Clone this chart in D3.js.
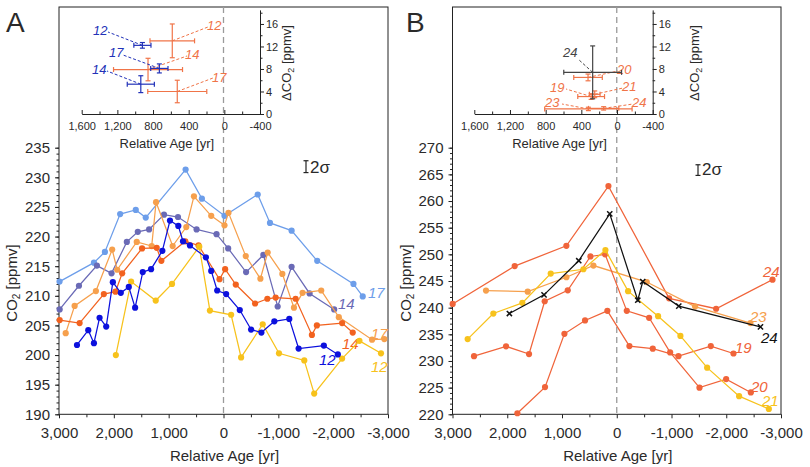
<!DOCTYPE html>
<html><head><meta charset="utf-8">
<script src="https://cdn.jsdelivr.net/npm/d3@7"></script>
<style>
body{margin:0;background:#fff}
text{font-family:"Liberation Sans",Arial,Helvetica,sans-serif;fill:#2a2a2a}
</style>
</head><body>
<svg id="c" width="810" height="467"></svg>
<script>
// ---------- DATA (relative age [yr], CO2 [ppmv]) ----------
// Panel A
const A17lb = [[2990,212.4],[2363,215.6],[2163,217.4],[1885,223.8],[1600,224.5],[1418,223.2],[691,231.3],[394,226.4],[-18,223.5],[-624,227.1],[-848,222.3],[-1242,221.0],[-1709,215.9],[-2370,212.0],[-2539,209.9]];
const A14p = [[2988,207.7],[2636,211.7],[2309,215.1],[2042,213.8],[1763,219.1],[1563,220.8],[1357,221.2],[1085,223.7],[830,223.3],[491,221.2],[127,220.4],[-85,218.0],[-412,214.0],[-727,216.9],[-988,208.2],[-1242,214.9],[-1570,210.4],[-2018,207.7]];
const A17o = [[2878,203.7],[2715,208.3],[2327,210.8],[2030,217.8],[1939,214.4],[1582,219.1],[1309,218.4],[1230,225.8],[927,218.4],[679,221.6],[539,226.8],[224,223.5],[-18,221.9],[-91,224.0],[-406,216.7],[-673,212.9],[-806,217.3],[-1073,213.7],[-1285,208.0],[-1442,210.5],[-1782,210.9],[-2103,206.4],[-2709,202.6],[-2933,202.7]];
const A14o = [[2988,205.9],[2624,205.4],[2182,210.3],[1970,210.7],[1848,213.8],[1485,218.0],[1218,218.1],[1133,215.9],[697,219.2],[455,218.5],[73,212.8],[-30,214.5],[-224,211.9],[-576,208.7],[-800,209.5],[-951,209.7],[-1315,209.5],[-1612,203.4],[-1703,205.0],[-2163,205.4],[-2357,203.8]];
const A12b = [[2672,201.7],[2466,204.2],[2363,202.0],[2260,206.3],[2139,204.8],[2018,212.3],[1873,210.5],[1727,211.5],[1612,208.0],[1473,214.0],[1321,214.5],[1115,217.6],[976,222.7],[824,221.8],[739,219.2],[612,218.5],[321,216.5],[224,214.2],[115,210.9],[-48,210.3],[-297,207.6],[-503,204.3],[-691,203.8],[-927,205.7],[-1200,206.1],[-1370,201.1],[-1830,201.6],[-2085,200.1]];
const A12y = [[1963,200.0],[1685,212.4],[1236,209.2],[939,212.0],[442,218.3],[248,207.5],[-139,206.8],[-321,199.6],[-715,205.2],[-1012,200.3],[-1473,199.1],[-1654,193.5],[-2163,199.4],[-2479,202.4],[-2872,200.3]];
// Panel B
const B24r = [[2997,240.7],[1864,247.8],[920,251.6],[152,262.8],[-956,241.75],[-1815,239.8],[-2845,245.25]];
const B24k = [[1961,238.9],[1328,242.4],[694,248.8],[128,257.6],[-384,241.4],[-475,244.9],[-1133,240.3],[-2625,236.4]];
const B23 = [[2388,243.2],[1626,243.0],[920,245.7],[426,247.9],[-548,244.8],[-1431,240.2],[-2442,237.1]];
const B21 = [[2723,234.1],[2254,238.9],[1724,240.9],[1206,246.4],[609,247.2],[207,250.8],[-207,243.1],[-755,238.4],[-1163,234.7],[-1651,228.75],[-2235,223.4],[-2778,221.0]];
const B20 = [[2607,230.9],[2022,232.75],[1602,231.3],[1316,241.2],[895,243.25],[481,249.6],[213,250.0],[-183,239.4],[-591,238.1],[-975,231.6],[-1511,225.0],[-1998,226.6],[-2449,224.1]];
const B19 = [[1815,220.2],[1310,225.1],[956,235.1],[579,237.6],[171,239.4],[-231,232.8],[-658,232.3],[-1127,230.9],[-1718,232.8],[-2132,231.4]];
// Insets: [label, age, dCO2, age error, dCO2 error]
const insetABlue = [["12",919,12.2,96,0.5],["17",729,8.1,97,0.8],["14",937,5.3,152,1.5]];
const insetAOrange = [["12",584,13.0,250,3.0],["14",856,7.9,387,2.0],["17",528,4.0,331,2.0]];
const insetBBlack = [["24",273,7.4,324,4.7]];
const insetBOrange = [["20",325,6.5,160,0.6],["19",290,3.1,150,0.5],["21",250,3.5,60,0.6],["23",321,0.9,490,0.3],["24",150,1.0,170,0.3]];
// tick values
const mainXTicks = [3000,2000,1000,0,-1000,-2000,-3000];
const insetXTicks = [1600,1200,800,400,0,-400];
const insetYTicks = [0,4,8,12,16];

// ---------- STYLE / LAYOUT ----------
const C = {lb:"#6d9eea", pu:"#6a6ab6", lo:"#f6a04d", do:"#f2621f", bl:"#0c10dd", ye:"#f7c21c", rd:"#f0643a", bk:"#111", ib:"#2232b8", io:"#f07448"};
const svg = d3.select("#c");
const fmt = v => (v<0?"-":"") + d3.format(",")(Math.abs(v));
const YB = 414.3, YT = 147.7, TOP = 7;

function styleAxis(g, size){
  g.attr("font-family","Liberation Sans, Arial, sans-serif").attr("font-size",size);
  g.selectAll("text").attr("fill","#2a2a2a");
  g.selectAll("line,path").attr("stroke","#222");
}

function panel(p){
  const g = svg.append("g");
  const x = d3.scaleLinear().domain([3000,-3000]).range([p.x0,p.x1]);
  const y = d3.scaleLinear().domain(p.yd).range([YB,YT]);
  g.append("rect").attr("x",p.x0).attr("y",TOP).attr("width",p.x1-p.x0).attr("height",YB-TOP)
    .attr("fill","none").attr("stroke","#222").attr("stroke-width",1);
  g.append("line").attr("x1",x(0)).attr("x2",x(0)).attr("y1",TOP).attr("y2",YB)
    .attr("stroke","#9a9a9a").attr("stroke-width",1.3).attr("stroke-dasharray","6,4");
  const gx = g.append("g").attr("transform",`translate(0,${YB})`)
    .call(d3.axisBottom(x).tickValues(mainXTicks).tickFormat(fmt).tickSize(4).tickPadding(9.5));
  gx.select(".domain").remove(); styleAxis(gx,15);
  const gxm = g.append("g").attr("transform",`translate(0,${YB})`)
    .call(d3.axisBottom(x).tickValues(d3.range(-2500,2600,1000)).tickFormat("").tickSize(3));
  gxm.select(".domain").remove(); styleAxis(gxm,15);
  const gy = g.append("g").attr("transform",`translate(${p.x0},0)`)
    .call(d3.axisLeft(y).tickValues(d3.range(p.yd[0],p.yd[1]+1,5)).tickSize(4).tickPadding(5));
  gy.select(".domain").remove(); styleAxis(gy,15);
  const gym = g.append("g").attr("transform",`translate(${p.x0},0)`)
    .call(d3.axisLeft(y).tickValues(d3.range(p.yd[0],p.yd[1]+1,1)).tickFormat("").tickSize(2.5));
  gym.select(".domain").remove(); styleAxis(gym,15);
  g.append("text").attr("x",x(0)+1).attr("y",460.5).attr("text-anchor","middle").attr("font-size",15).text("Relative Age [yr]");
  const yt = g.append("text").attr("transform",`translate(${p.x0-42},283) rotate(-90)`).attr("text-anchor","middle").attr("font-size",15);
  yt.append("tspan").text("CO");
  yt.append("tspan").attr("font-size",10).attr("dy",3).text("2");
  yt.append("tspan").attr("dy",-3).text(" [ppmv]");
  g.append("text").attr("x",p.lx).attr("y",32).attr("font-size",28).text(p.letter);
  const sx = p.sigX, sTop = y(p.sigV+2), sBot = y(p.sigV);
  g.append("line").attr("x1",sx).attr("x2",sx).attr("y1",sTop).attr("y2",sBot).attr("stroke","#222").attr("stroke-width",1.2);
  [sTop,sBot].forEach(v=>g.append("line").attr("x1",sx-2.5).attr("x2",sx+2.5).attr("y1",v).attr("y2",v).attr("stroke","#222").attr("stroke-width",1.2));
  g.append("text").attr("x",sx+4).attr("y",sBot).attr("font-family","Liberation Serif, Times New Roman, serif").attr("font-size",17).text("2σ");
  const line = d3.line().x(d=>x(d[0])).y(d=>y(d[1]));
  p.series.forEach(s=>{
    g.append("path").attr("d",line(s.data)).attr("fill","none").attr("stroke",s.color).attr("stroke-width",1.25);
    if(s.cross){
      s.data.forEach(d=>{
        const cx=x(d[0]), cy=y(d[1]), r=2.6;
        g.append("path").attr("d",`M${cx-r},${cy-r}L${cx+r},${cy+r}M${cx-r},${cy+r}L${cx+r},${cy-r}`).attr("stroke",s.color).attr("stroke-width",1.5);
      });
    } else {
      g.selectAll(null).data(s.data).enter().append("circle")
        .attr("cx",d=>x(d[0])).attr("cy",d=>y(d[1])).attr("r",3.1).attr("fill",s.color);
    }
    g.append("text").attr("x",s.lab[0]).attr("y",s.lab[1]).attr("font-size",15).attr("font-style","italic")
      .style("fill",s.color).text(s.name);
  });
  return {x,y};
}

function inset(q){
  const g = svg.append("g");
  const x = d3.scaleLinear().domain([1600,-400]).range([q.x0,q.x1]);
  const y = d3.scaleLinear().domain([0,18.5]).range([114,9.9]);
  const gx = g.append("g").attr("transform","translate(0,114)")
    .call(d3.axisBottom(x).tickValues(insetXTicks).tickFormat(fmt).tickSizeInner(-4).tickSizeOuter(0).tickPadding(8.5));
  styleAxis(gx,11);
  const gxm = g.append("g").attr("transform","translate(0,114)")
    .call(d3.axisBottom(x).tickValues(d3.range(-200,1500,400)).tickFormat("").tickSizeInner(-2.5).tickSizeOuter(0));
  gxm.select(".domain").remove(); styleAxis(gxm,11);
  const gy = g.append("g").attr("transform",`translate(${q.x1},0)`)
    .call(d3.axisRight(y).tickValues(insetYTicks).tickSizeInner(4).tickSizeOuter(0).tickPadding(2));
  styleAxis(gy,11);
  const gym = g.append("g").attr("transform",`translate(${q.x1},0)`)
    .call(d3.axisRight(y).tickValues([2,6,10,14,18]).tickFormat("").tickSizeInner(2.5).tickSizeOuter(0));
  gym.select(".domain").remove(); styleAxis(gym,11);
  g.append("text").attr("x",(q.x0+q.x1)/2-4).attr("y",147.5).attr("text-anchor","middle").attr("font-size",13).text("Relative Age [yr]");
  const yt = g.append("text").attr("transform",`translate(${q.tx},63) rotate(-90)`).attr("text-anchor","middle").attr("font-size",13);
  yt.append("tspan").text("ΔCO");
  yt.append("tspan").attr("font-size",9).attr("dy",3).text("2");
  yt.append("tspan").attr("dy",-3).text(" [ppmv]");
  q.groups.forEach(grp=>{
    grp.data.forEach((d,i)=>{
      const cx=x(d[1]), cy=y(d[2]), xl=x(d[1]+d[3]), xr=x(d[1]-d[3]), yt2=y(d[2]+d[4]), yb=y(d[2]-d[4]);
      const col=grp.color, sw=1.2, cap=2.5;
      g.append("line").attr("x1",xl).attr("x2",xr).attr("y1",cy).attr("y2",cy).attr("stroke",col).attr("stroke-width",sw);
      g.append("line").attr("x1",cx).attr("x2",cx).attr("y1",yt2).attr("y2",yb).attr("stroke",col).attr("stroke-width",sw);
      [xl,xr].forEach(v=>g.append("line").attr("x1",v).attr("x2",v).attr("y1",cy-cap).attr("y2",cy+cap).attr("stroke",col).attr("stroke-width",sw));
      [yt2,yb].forEach(v=>g.append("line").attr("x1",cx-cap).attr("x2",cx+cap).attr("y1",v).attr("y2",v).attr("stroke",col).attr("stroke-width",sw));
      const L = grp.labels[i];
      g.append("line").attr("x1",cx).attr("y1",cy).attr("x2",L[2]).attr("y2",L[3])
        .attr("stroke",col).attr("stroke-width",1).attr("stroke-dasharray","3,2");
      g.append("text").attr("x",L[0]).attr("y",L[1]).attr("font-size",13).attr("font-style","italic").style("fill",col).text(d[0]);
    });
  });
}

panel({x0:59,x1:388,yd:[190,235],letter:"A",lx:6,sigX:306,sigV:230.8,
  series:[
    {data:A17lb,color:C.lb,name:"17",lab:[368,298]},
    {data:A14p,color:C.pu,name:"14",lab:[338,309]},
    {data:A17o,color:C.lo,name:"17",lab:[371,339]},
    {data:A14o,color:C.do,name:"14",lab:[342,349]},
    {data:A12y,color:C.ye,name:"12",lab:[371,372]},
    {data:A12b,color:C.bl,name:"12",lab:[319,365]}
  ]});
panel({x0:452.5,x1:781,yd:[220,270],letter:"B",lx:406,sigX:698,sigV:264.8,
  series:[
    {data:B24r,color:C.rd,name:"24",lab:[763,277]},
    {data:B23,color:C.lo,name:"23",lab:[750,322]},
    {data:B19,color:C.rd,name:"19",lab:[735,353]},
    {data:B20,color:C.rd,name:"20",lab:[751,392]},
    {data:B21,color:C.ye,name:"21",lab:[762,406]},
    {data:B24k,color:C.bk,name:"24",lab:[761,343],cross:true}
  ]});
// label = [textX, baselineY, connectorX, connectorY]
inset({x0:81.7,x1:260,tx:291,groups:[
  {data:insetAOrange,color:C.io,labels:[[207,30,208,27],[185,59,187,56],[212,82,213,78]]},
  {data:insetABlue,color:C.ib,labels:[[93,35,108,32],[109,57,123,55],[92,74,107,71]]}
]});
inset({x0:474.3,x1:652.7,tx:699,groups:[
  {data:insetBOrange,color:C.io,labels:[[617,74,618,71],[550,92,566,89],[622,91,623,88],[545,107,562,104],[632,107,633,104]]},
  {data:insetBBlack,color:"#444",labels:[[563,57,578,59]]}
]});
</script>
</body></html>
